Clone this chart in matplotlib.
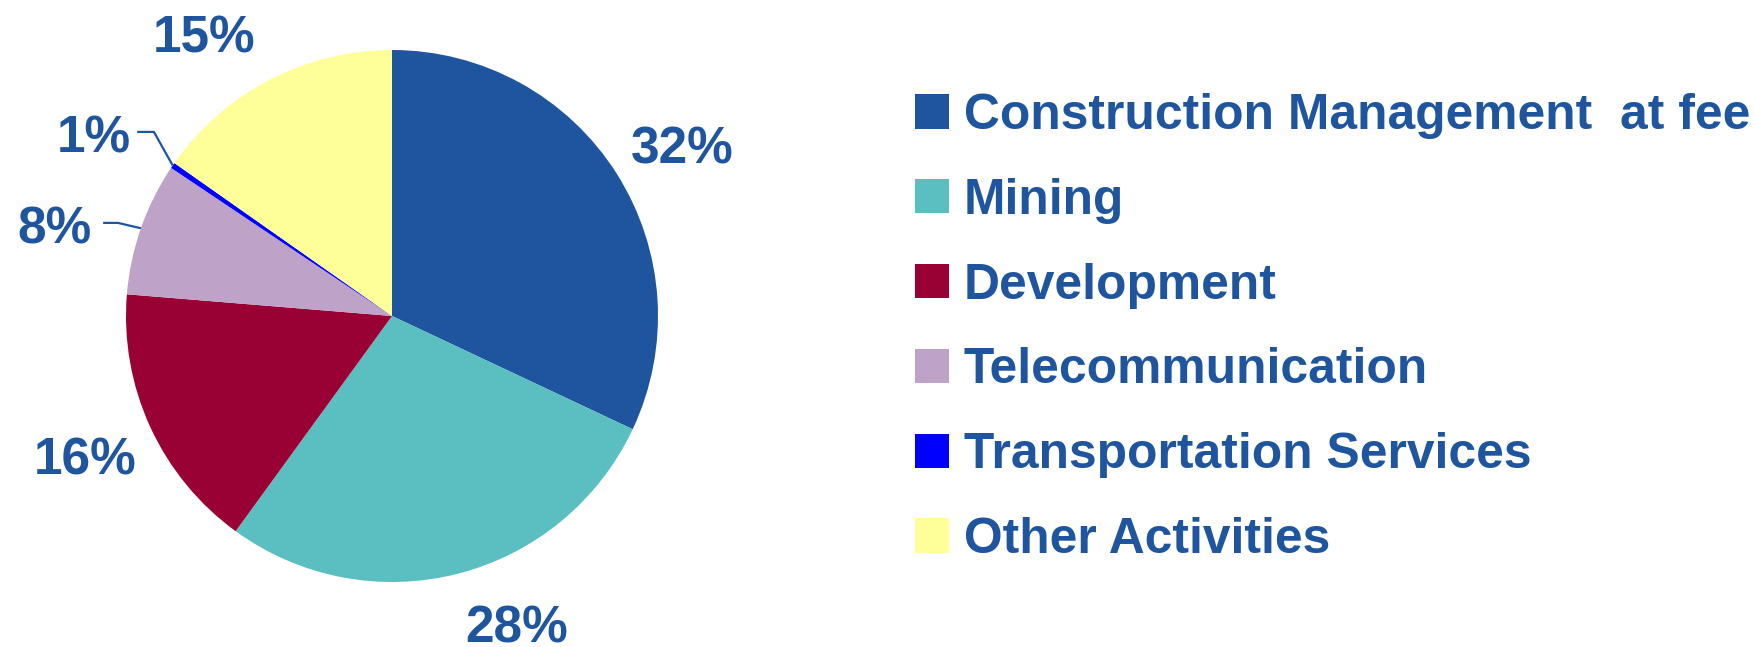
import numpy as np
import matplotlib
matplotlib.use('Agg')
import matplotlib.pyplot as plt

plt.rcParams['font.family'] = ['Liberation Sans', 'DejaVu Sans']

# data
categories = ['Construction Management  at fee', 'Mining', 'Development',
              'Telecommunication', 'Transportation Services', 'Other Activities']
shares = [32.0, 28.0, 16.3, 8.1, 0.35, 15.25]
pct_labels = ['32%', '28%', '16%', '8%', '1%', '15%']
colors = ['#1F559E', '#5BBFC1', '#990033', '#BFA2C7', '#0000FF', '#FFFF99']

txt_color = '#1F559E'

# layout: label anchor (x centre, baseline) in pie-radius units
label_pos = [(1.090, 0.575), (0.470, -1.228), (-1.154, -0.594),
             (-1.267, 0.274), (-1.120, 0.613), (-0.707, 0.992)]
# leader lines: start of the short horizontal stub, elbow x
leaders = {3: ((-1.086, 0.350), -1.030), 4: ((-0.958, 0.692), -0.895)}

W, H = 1756, 647
cx, cy, R = 392, 316, 266

fig = plt.figure(figsize=(W / 100, H / 100), dpi=100)
ax = fig.add_axes([0, 0, 1, 1])

wedges, _ = ax.pie(shares, colors=colors, startangle=90, counterclock=False,
                   radius=1.0, wedgeprops=dict(linewidth=0))

ax.set_xlim(-cx / R, (W - cx) / R)
ax.set_ylim(-(H - cy) / R, cy / R)
ax.set_aspect('equal')
ax.axis('off')

for i, w in enumerate(wedges):
    x, y = label_pos[i]
    ax.text(x, y, pct_labels[i], ha='center', va='baseline', fontsize=37,
            fontweight='bold', color=txt_color)
    if i in leaders:
        (sx, sy), ex = leaders[i]
        mid = np.deg2rad((w.theta1 + w.theta2) / 2)
        ax.plot([sx, ex, np.cos(mid)], [sy, sy, np.sin(mid)],
                color=txt_color, lw=1.6, solid_capstyle='butt')

leg = ax.legend(wedges, categories, loc='upper left',
                bbox_to_anchor=(915 / W, 1 - 93 / H), bbox_transform=fig.transFigure,
                frameon=False, borderpad=0, borderaxespad=0,
                fontsize=35.8, handlelength=0.68, handleheight=0.68,
                handletextpad=0.3, labelspacing=0.78)
for t in leg.get_texts():
    t.set_color(txt_color)
    t.set_fontweight('bold')

fig.savefig('out.png', dpi=100)
